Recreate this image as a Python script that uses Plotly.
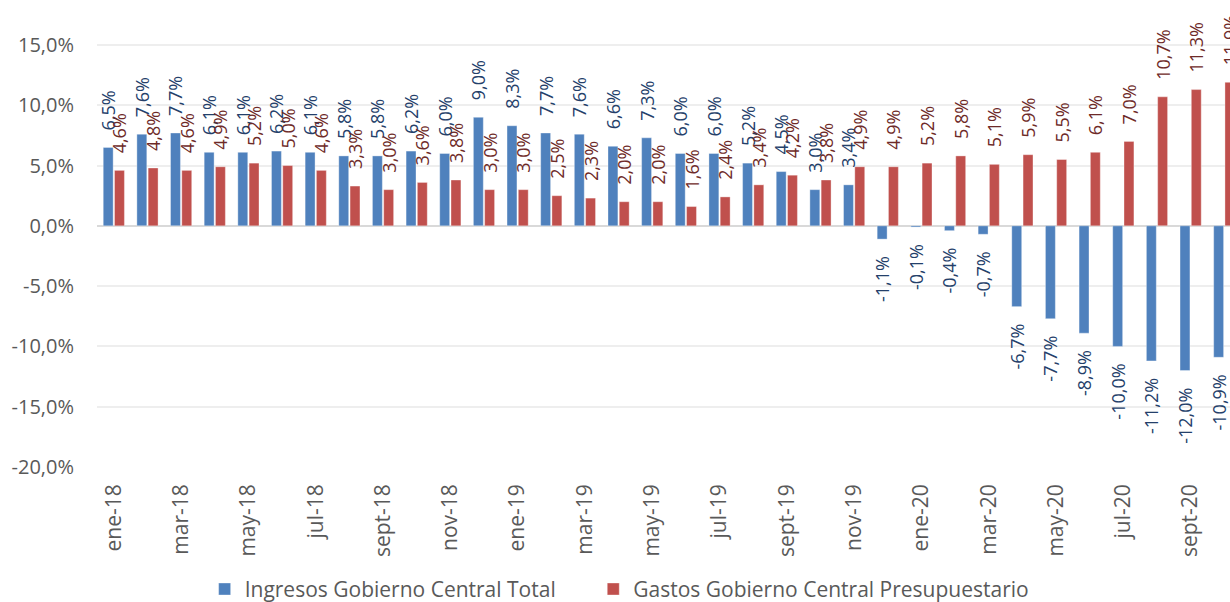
import plotly.graph_objects as go

months = ["ene-18", "feb-18", "mar-18", "abr-18", "may-18", "jun-18", "jul-18", "ago-18",
          "sept-18", "oct-18", "nov-18", "dic-18",
          "ene-19", "feb-19", "mar-19", "abr-19", "may-19", "jun-19", "jul-19", "ago-19",
          "sept-19", "oct-19", "nov-19", "dic-19",
          "ene-20", "feb-20", "mar-20", "abr-20", "may-20", "jun-20", "jul-20", "ago-20",
          "sept-20", "oct-20"]

ingresos = [6.5, 7.6, 7.7, 6.1, 6.1, 6.2, 6.1, 5.8, 5.8, 6.2, 6.0, 9.0,
            8.3, 7.7, 7.6, 6.6, 7.3, 6.0, 6.0, 5.2, 4.5, 3.0, 3.4, -1.1,
            -0.1, -0.4, -0.7, -6.7, -7.7, -8.9, -10.0, -11.2, -12.0, -10.9]

gastos = [4.6, 4.8, 4.6, 4.9, 5.2, 5.0, 4.6, 3.3, 3.0, 3.6, 3.8, 3.0,
          3.0, 2.5, 2.3, 2.0, 2.0, 1.6, 2.4, 3.4, 4.2, 3.8, 4.9, 4.9,
          5.2, 5.8, 5.1, 5.9, 5.5, 6.1, 7.0, 10.7, 11.3, 11.9]

y_ticks = [-20, -15, -10, -5, 0, 5, 10, 15]
y_ticktext = [f"{v:.1f}%".replace(".", ",") for v in y_ticks]

series_names = ["Ingresos Gobierno Central Total", "Gastos Gobierno Central Presupuestario"]

BLUE = "#4F81BD"
RED = "#C0504D"
BLUE_TXT = "#24406A"
RED_TXT = "#6E2A28"
NB = "\u00a0"
FONT = "Open Sans"


def labels(vals):
    out = []
    for v in vals:
        s = f"{v:.1f}%".replace(".", ",")
        out.append(NB * 3 + s if v >= 0 else s + NB * 3)
    return out


fig = go.Figure()
for name, vals, col, tcol, lg in [(series_names[0], ingresos, BLUE, BLUE_TXT, "legend"),
                                  (series_names[1], gastos, RED, RED_TXT, "legend2")]:
    fig.add_trace(go.Bar(
        x=months, y=vals, name=name, legend=lg,
        marker=dict(color=col, line=dict(color="rgba(255,255,255,0.35)", width=1)),
        text=labels(vals), textposition="outside", textangle=-90,
        textfont=dict(family=FONT, size=18, color=tcol),
        cliponaxis=False, constraintext="none", hoverinfo="skip",
    ))

n = len(months)
ymin, ymax = -20, 18.73
xr = [-0.5, 33.17]
leg_font = dict(family=FONT, size=21, color="#595959")

fig.update_layout(
    width=1230, height=602,
    margin=dict(l=97, r=0, t=0, b=135, autoexpand=False),
    plot_bgcolor="white", paper_bgcolor="white",
    barmode="group", bargap=0.33, bargroupgap=0.12,
    separators=",.",
    font=dict(family=FONT, size=20, color="#595959"),
    showlegend=True,
    legend=dict(orientation="h", x=0.095, xanchor="left", y=-0.262, yanchor="middle",
                font=leg_font, bgcolor="rgba(0,0,0,0)"),
    legend2=dict(orientation="h", x=0.438, xanchor="left", y=-0.262, yanchor="middle",
                 font=leg_font, bgcolor="rgba(0,0,0,0)"),
    xaxis=dict(type="category", categoryorder="array", categoryarray=months,
               range=xr, tickvals=months[::2], ticktext=months[::2], tickangle=-90,
               ticks="", showline=False, showgrid=False, zeroline=False,
               automargin=False, ticklabelstandoff=12,
               tickfont=dict(family=FONT, size=21, color="#595959")),
    xaxis2=dict(overlaying="x", anchor="free",
                position=(0 - ymin) / (ymax - ymin), range=xr,
                tickvals=[i - 0.5 for i in range(0, n + 1, 2)],
                ticks="outside", ticklen=8, tickwidth=2, tickcolor="#D9D9D9",
                showticklabels=False, showgrid=False, showline=False, zeroline=False,
                automargin=False),
    yaxis=dict(range=[ymin, ymax], tickvals=y_ticks, ticktext=y_ticktext,
               showgrid=True, gridcolor="#EEEEEE", gridwidth=2,
               zeroline=True, zerolinecolor="#D9D9D9", zerolinewidth=2,
               showline=False, ticks="", automargin=False, ticklabelstandoff=22,
               tickfont=dict(family=FONT, size=20, color="#595959")),
)

fig.write_html("out.html", config={"displayModeBar": False},
               post_script="document.body.style.margin='0';document.body.style.overflow='hidden';")
